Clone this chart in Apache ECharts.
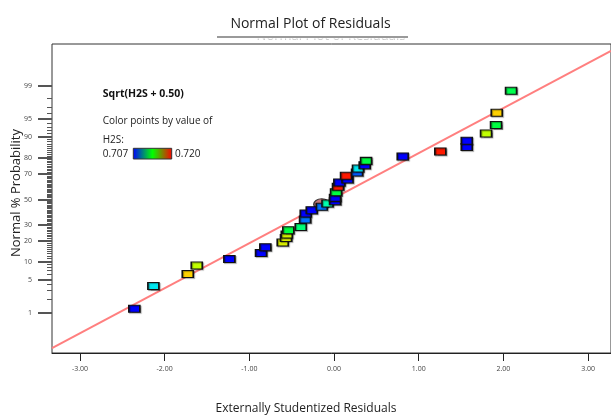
<!DOCTYPE html>
<html>
<head>
<meta charset="utf-8">
<script src="https://cdn.jsdelivr.net/npm/echarts@6/dist/echarts.min.js"></script>
<style>
html,body{margin:0;padding:0;background:#fff;}
#chart{width:611px;height:417px;}
</style>
</head>
<body>
<div id="chart"></div>
<script>
// ---- data ----
const residuals = [-2.358,-2.133,-1.727,-1.621,-1.236,-0.862,-0.811,-0.606,-0.567,-0.558,-0.540,-0.393,-0.342,-0.334,-0.263,-0.145,-0.077,0.012,0.012,0.024,0.047,0.063,0.159,0.142,0.272,0.283,0.362,0.378,0.811,1.255,1.567,1.567,1.795,1.913,1.921,2.090];
const probabilities = [1.19,3.63,6.08,8.44,10.75,13.2,15.87,18.33,20.9,22.99,25.75,27.99,33.3,37.9,40.5,43.2,45.9,47.8,50.5,55.1,59.6,62.9,65.2,67.9,70.3,73.1,75.3,78.0,80.6,83.3,85.5,88.2,90.9,93.4,96.06,98.64];
const h2s = [0.707,0.7107,0.7181,0.7163,0.707,0.707,0.707,0.717,0.717,0.7168,0.7144,0.7135,0.7089,0.707,0.707,0.7089,0.7126,0.707,0.707,0.7144,0.720,0.707,0.707,0.720,0.7085,0.7107,0.707,0.7144,0.707,0.720,0.707,0.707,0.7163,0.7144,0.7181,0.7142];
const markedResidual = [-0.145];
const markedProbability = [45.3];
const fitResiduals = [-3.33, 3.27];
const fitQuantiles = [-3.07, 3.03];
const xTicks = [-3,-2,-1,0,1,2,3];
const yMajorProbs = [1,5,10,20,30,50,70,80,90,95,99];
const yMinorProbs = [2,3,4,6,7,8,9];
for (let i = 11; i < 90; i++) if (yMajorProbs.indexOf(i) < 0) yMinorProbs.push(i);
yMinorProbs.push(91,92,93,94,96,97,98);
const colorRange = [0.707, 0.720];

const X_MIN = -3.33, X_MAX = 3.27, Z_MIN = -3.17, Z_MAX = 3.17;

function normInv(p){
  const a=[-3.969683028665376e+01,2.209460984245205e+02,-2.759285104469687e+02,1.383577518672690e+02,-3.066479806614716e+01,2.506628277459239e+00];
  const b=[-5.447609879822406e+01,1.615858368580409e+02,-1.556989798598866e+02,6.680131188771972e+01,-1.328068155288572e+01];
  const c=[-7.784894002430293e-03,-3.223964580411365e-01,-2.400758277161838e+00,-2.549671010229528e+00,4.374664141464968e+00,2.938163982698783e+00];
  const d=[7.784695709041462e-03,3.224671290700398e-01,2.445134137142996e+00,3.754408661907416e+00];
  const pl=0.02425;
  if(p<pl){const q=Math.sqrt(-2*Math.log(p));return (((((c[0]*q+c[1])*q+c[2])*q+c[3])*q+c[4])*q+c[5])/((((d[0]*q+d[1])*q+d[2])*q+d[3])*q+1);}
  if(p>1-pl){const q=Math.sqrt(-2*Math.log(1-p));return -(((((c[0]*q+c[1])*q+c[2])*q+c[3])*q+c[4])*q+c[5])/((((d[0]*q+d[1])*q+d[2])*q+d[3])*q+1);}
  const q=p-0.5,r=q*q;return (((((a[0]*r+a[1])*r+a[2])*r+a[3])*r+a[4])*r+a[5])*q/(((((b[0]*r+b[1])*r+b[2])*r+b[3])*r+b[4])*r+1);
}
const zOf = p => normInv(p/100);
const majorZ = yMajorProbs.map(zOf);
const minorZ = yMinorProbs.map(zOf);

const pointData = residuals.map((r,i)=>[r, zOf(probabilities[i]), h2s[i]]);
const markedData = markedResidual.map((r,i)=>[r, zOf(markedProbability[i])]);
const fitData = fitResiduals.map((r,i)=>[r, fitQuantiles[i]]);

const FONT = "'Open Sans', 'Noto Sans', sans-serif";
const baseGraphics = [
  {id:'ghost', type:'text', z:1, x:331, y:43, style:{text:'Normal Plot of Residuals', font:'13px '+FONT, fill:'#c8c8c8', align:'center', verticalAlign:'bottom'}},
  {id:'mask', type:'rect', z:2, shape:{x:230, y:24, width:200, height:14.5}, style:{fill:'#fff'}},
  {id:'title', type:'text', z:3, x:310.5, y:24, style:{text:'Normal Plot of Residuals', font:'14px '+FONT, fill:'#222', align:'center', verticalAlign:'middle'}},
  {id:'uline', type:'line', z:3, shape:{x1:217, y1:37, x2:408, y2:37}, style:{stroke:'#9a9a9a', lineWidth:2}},
  {id:'yname', type:'text', z:3, x:16.7, y:193, rotation:Math.PI/2, style:{text:'Normal % Probability', font:'13px '+FONT, fill:'#222', align:'center', verticalAlign:'middle'}},
  {id:'xname', type:'text', z:3, x:306, y:409, style:{text:'Externally Studentized Residuals', font:'12px '+FONT, fill:'#222', align:'center', verticalAlign:'middle'}},
  {id:'lg1', type:'text', z:3, x:102.7, y:94, style:{text:'Sqrt(H2S + 0.50)', font:'bold 10.5px '+FONT, fill:'#111', align:'left', verticalAlign:'middle'}},
  {id:'lg2', type:'text', z:3, x:102.7, y:121, style:{text:'Color points by value of', font:'10px '+FONT, fill:'#222', align:'left', verticalAlign:'middle'}},
  {id:'lg3', type:'text', z:3, x:102.7, y:140, style:{text:'H2S:', font:'10px '+FONT, fill:'#222', align:'left', verticalAlign:'middle'}},
  {id:'lg4', type:'text', z:3, x:102.7, y:154, style:{text:String(colorRange[0].toFixed(3)), font:'10px '+FONT, fill:'#222', align:'left', verticalAlign:'middle'}},
  {id:'lg5', type:'text', z:3, x:175, y:154, style:{text:String(colorRange[1].toFixed(3)), font:'10px '+FONT, fill:'#222', align:'left', verticalAlign:'middle'}},
  {id:'lgbar', type:'rect', z:3, shape:{x:133.3, y:148.3, width:38.4, height:10.7},
   style:{stroke:'#333', lineWidth:1,
     fill:new echarts.graphic.LinearGradient(0,0,1,0,[{offset:0,color:'#0000ff'},{offset:0.5,color:'#00ff00'},{offset:1,color:'#ff0000'}])}}
];

const chart = echarts.init(document.getElementById('chart'), null, {renderer:'canvas'});
chart.setOption({
  animation:false,
  grid:{left:52, right:0, top:44, bottom:64, show:true, borderColor:'#333', borderWidth:1},
  xAxis:{
    type:'value', min:X_MIN, max:X_MAX,
    axisLine:{show:true, onZero:false, lineStyle:{color:'#222', width:1}},
    axisTick:{show:true, customValues:xTicks, length:8, lineStyle:{color:'#222'}},
    axisLabel:{customValues:xTicks, formatter:v=>v.toFixed(2), fontSize:7, color:'#444', margin:12, fontFamily:FONT},
    splitLine:{show:false}
  },
  yAxis:{type:'value', min:Z_MIN, max:Z_MAX, show:false},
  visualMap:{
    type:'continuous', show:false, min:colorRange[0], max:colorRange[1], dimension:2, seriesIndex:2,
    inRange:{color:['#0000ff','#0070ff','#00e8f0','#00ffb0','#00ff40','#c0ff00','#ffd000','#ff1a00']}
  },
  series:[
    {type:'line', data:fitData, symbol:'none', silent:true, z:1,
     lineStyle:{color:'#ff7f7f', width:2}},
    {type:'scatter', data:markedData, symbol:'circle', symbolSize:[16,11], z:2,
     itemStyle:{color:'#c27878', borderColor:'#333', borderWidth:1.2, opacity:1}},
    {type:'scatter', data:pointData, symbol:'rect', symbolSize:[11,7], z:3,
     itemStyle:{borderColor:'#111', borderWidth:1.3, opacity:1, shadowColor:'rgba(0,0,0,0.35)', shadowBlur:1, shadowOffsetX:1, shadowOffsetY:1}}
  ],
  graphic:baseGraphics
});

// probability-scale ticks (thin filled rects) and labels, placed through the chart's own y scale
const axisGraphics = [];
const addTicks = (zs, len, color, thick, tag, labels) => {
  zs.forEach((z, i) => {
    const p = chart.convertToPixel({xAxisIndex:0, yAxisIndex:0}, [X_MIN, z]);
    const y = Math.round(p[1]);
    axisGraphics.push({id:tag+i, type:'rect', zlevel:1, z:50,
      shape:{x:Math.round(p[0])-len, y:y, width:len, height:thick}, style:{fill:color}});
    if (labels) axisGraphics.push({id:tag+'t'+i, type:'text', zlevel:1, z:50, x:p[0]-20, y:y+0.5,
      style:{text:String(labels[i]), font:'7px '+FONT, fill:'#444', align:'right', verticalAlign:'middle'}});
  });
};
addTicks(minorZ, 5, '#555', 1, 'mn', null);
addTicks(majorZ, 14, '#555', 2, 'mj', yMajorProbs);
chart.setOption({graphic:{elements:axisGraphics}});
</script>
</body>
</html>
